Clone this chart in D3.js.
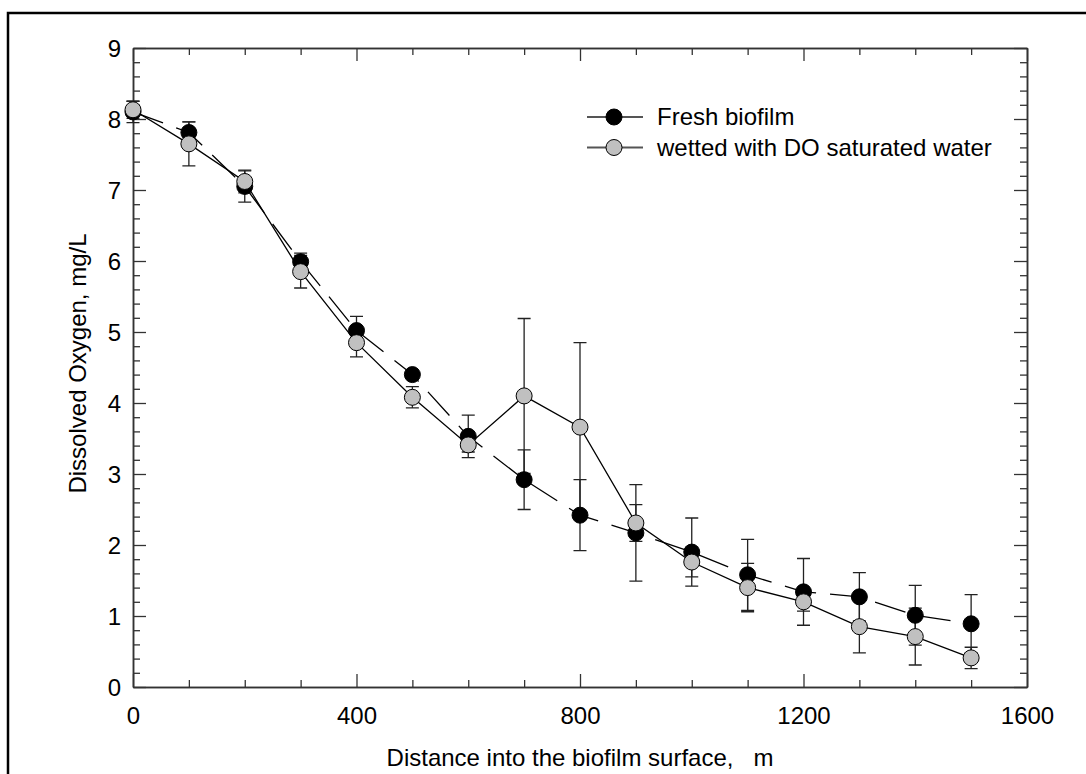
<!DOCTYPE html>
<html>
<head>
<meta charset="utf-8">
<script src="https://cdn.jsdelivr.net/npm/d3@7"></script>
<style>
  body { margin: 0; background: #fff; }
  svg { display: block; font-family: "Liberation Sans", Arial, sans-serif; }
</style>
</head>
<body>
<div id="chart"></div>
<script>
// Dissolved oxygen profile into the biofilm

const distance = [0, 100, 200, 300, 400, 500, 600, 700, 800, 900, 1000, 1100, 1200, 1300, 1400, 1500];
const freshDO = [8.10, 7.81, 7.05, 5.99, 5.02, 4.40, 3.53, 2.92, 2.42, 2.17, 1.90, 1.58, 1.34, 1.27, 1.01, 0.89];
const freshErr = [0.15, 0.15, 0.22, 0.12, 0.20, 0.05, 0.30, 0.42, 0.50, 0.68, 0.48, 0.50, 0.47, 0.34, 0.42, 0.41];
const wettedDO = [8.13, 7.65, 7.12, 5.85, 4.85, 4.08, 3.41, 4.10, 3.66, 2.31, 1.76, 1.40, 1.20, 0.85, 0.71, 0.41];
const wettedErr = [0.12, 0.31, 0.16, 0.23, 0.20, 0.15, 0.10, 1.09, 1.19, 0.26, 0.21, 0.34, 0.13, 0.37, 0.40, 0.15];

const xTicks = [0, 400, 800, 1200, 1600];
const yTicks = [0, 1, 2, 3, 4, 5, 6, 7, 8, 9];
const seriesNames = ["Fresh biofilm", "wetted with DO saturated water"];

const W = 1086, H = 774;
const plot = { left: 133, right: 1027, top: 48, bottom: 687 };

const svg = d3.select("#chart").append("svg")
    .attr("width", W)
    .attr("height", H);

// outer frame (only top and left edges fall inside the picture)
svg.append("path")
    .attr("d", `M8,${H + 10}V13H${W + 10}`)
    .attr("fill", "none")
    .attr("stroke", "#000")
    .attr("stroke-width", 2.5);

const x = d3.scaleLinear().domain([0, 1600]).range([plot.left, plot.right]);
const y = d3.scaleLinear().domain([0, 9]).range([plot.bottom, plot.top]);

const axisColor = "#333";

function styleAxis(g) {
    g.select(".domain").attr("stroke", axisColor).attr("stroke-width", 1.5);
    g.selectAll(".tick line").attr("stroke", axisColor).attr("stroke-width", 1.3);
    g.selectAll(".tick text")
        .attr("fill", "#000")
        .style("font-size", "24px")
        .style("font-family", "Liberation Sans, Arial, sans-serif");
}

// minor ticks first
const xMinor = x.ticks(16).filter(v => !xTicks.includes(v));
const yMinor = d3.range(0, 9.01, 0.2).map(v => +v.toFixed(1)).filter(v => !yTicks.includes(v));

svg.append("g").attr("transform", `translate(0,${plot.bottom})`)
    .call(d3.axisBottom(x).tickValues(xMinor).tickSize(-7).tickSizeOuter(0).tickFormat(""))
    .call(styleAxis);
svg.append("g").attr("transform", `translate(0,${plot.top})`)
    .call(d3.axisTop(x).tickValues(xMinor).tickSize(-7).tickSizeOuter(0).tickFormat(""))
    .call(styleAxis);
svg.append("g").attr("transform", `translate(${plot.left},0)`)
    .call(d3.axisLeft(y).tickValues(yMinor).tickSize(-7).tickSizeOuter(0).tickFormat(""))
    .call(styleAxis);
svg.append("g").attr("transform", `translate(${plot.right},0)`)
    .call(d3.axisRight(y).tickValues(yMinor).tickSize(-7).tickSizeOuter(0).tickFormat(""))
    .call(styleAxis);

// major ticks
const xAxis = svg.append("g").attr("transform", `translate(0,${plot.bottom})`)
    .call(d3.axisBottom(x).tickValues(xTicks).tickSize(-13).tickSizeOuter(0).tickPadding(24).tickFormat(d3.format("d")))
    .call(styleAxis);
xAxis.selectAll(".tick text").attr("y", 37).attr("dy", 0);

svg.append("g").attr("transform", `translate(0,${plot.top})`)
    .call(d3.axisTop(x).tickValues(xTicks).tickSize(-13).tickSizeOuter(0).tickFormat(""))
    .call(styleAxis);

const yAxis = svg.append("g").attr("transform", `translate(${plot.left},0)`)
    .call(d3.axisLeft(y).tickValues(yTicks).tickSize(-13).tickSizeOuter(0).tickFormat(d3.format("d")))
    .call(styleAxis);
yAxis.selectAll(".tick text").attr("x", -12).attr("dy", "0.35em");

svg.append("g").attr("transform", `translate(${plot.right},0)`)
    .call(d3.axisRight(y).tickValues(yTicks).tickSize(-13).tickSizeOuter(0).tickFormat(""))
    .call(styleAxis);

// axis titles
svg.append("text")
    .attr("x", (plot.left + plot.right) / 2)
    .attr("y", 766)
    .attr("text-anchor", "middle")
    .style("font-size", "24px")
    .style("white-space", "pre")
    .attr("xml:space", "preserve")
    .text("Distance into the biofilm surface,   m");

svg.append("text")
    .attr("transform", `translate(86,${(plot.top + plot.bottom) / 2 - 4}) rotate(-90)`)
    .attr("text-anchor", "middle")
    .style("font-size", "24px")
    .text("Dissolved Oxygen, mg/L");

// data
const fresh = distance.map((d, i) => ({ x: d, y: freshDO[i], e: freshErr[i] }));
const wetted = distance.map((d, i) => ({ x: d, y: wettedDO[i], e: wettedErr[i] }));

const capHalf = 6.5;
function errorBars(data) {
    const g = svg.append("g").attr("stroke", "#222").attr("stroke-width", 1.3).attr("fill", "none");
    g.selectAll("path").data(data).enter().append("path")
        .attr("d", d => {
            const cx = x(d.x), y1 = y(d.y + d.e), y0 = y(d.y - d.e);
            return `M${cx},${y1}V${y0}M${cx - capHalf},${y1}H${cx + capHalf}M${cx - capHalf},${y0}H${cx + capHalf}`;
        });
}
errorBars(fresh);
errorBars(wetted);

const line = d3.line().x(d => x(d.x)).y(d => y(d.y));

svg.append("path")
    .datum(fresh)
    .attr("d", line)
    .attr("fill", "none")
    .attr("stroke", "#000")
    .attr("stroke-width", 1.3)
    .attr("stroke-dasharray", "32,14");

svg.append("path")
    .datum(wetted)
    .attr("d", line)
    .attr("fill", "none")
    .attr("stroke", "#000")
    .attr("stroke-width", 1.3);

const r = 8;
svg.append("g").selectAll("circle").data(fresh).enter().append("circle")
    .attr("cx", d => x(d.x))
    .attr("cy", d => y(d.y))
    .attr("r", r)
    .attr("fill", "#000")
    .attr("stroke", "#000")
    .attr("stroke-width", 1);

svg.append("g").selectAll("circle").data(wetted).enter().append("circle")
    .attr("cx", d => x(d.x))
    .attr("cy", d => y(d.y))
    .attr("r", r)
    .attr("fill", "#c0c0c0")
    .attr("stroke", "#000")
    .attr("stroke-width", 1);

// legend
const legendFills = ["#000", "#c0c0c0"];
const legend = svg.append("g").attr("transform", "translate(587,117)");
seriesNames.forEach((name, i) => {
    const row = legend.append("g").attr("transform", `translate(0,${i * 30.5})`);
    row.append("line")
        .attr("x1", 0).attr("x2", 56)
        .attr("stroke", "#555")
        .attr("stroke-width", 2);
    row.append("circle")
        .attr("cx", 27).attr("r", r)
        .attr("fill", legendFills[i])
        .attr("stroke", "#000")
        .attr("stroke-width", 1);
    row.append("text")
        .attr("x", 70)
        .attr("dy", "0.35em")
        .style("font-size", "24px")
        .text(name);
});
</script>
</body>
</html>
